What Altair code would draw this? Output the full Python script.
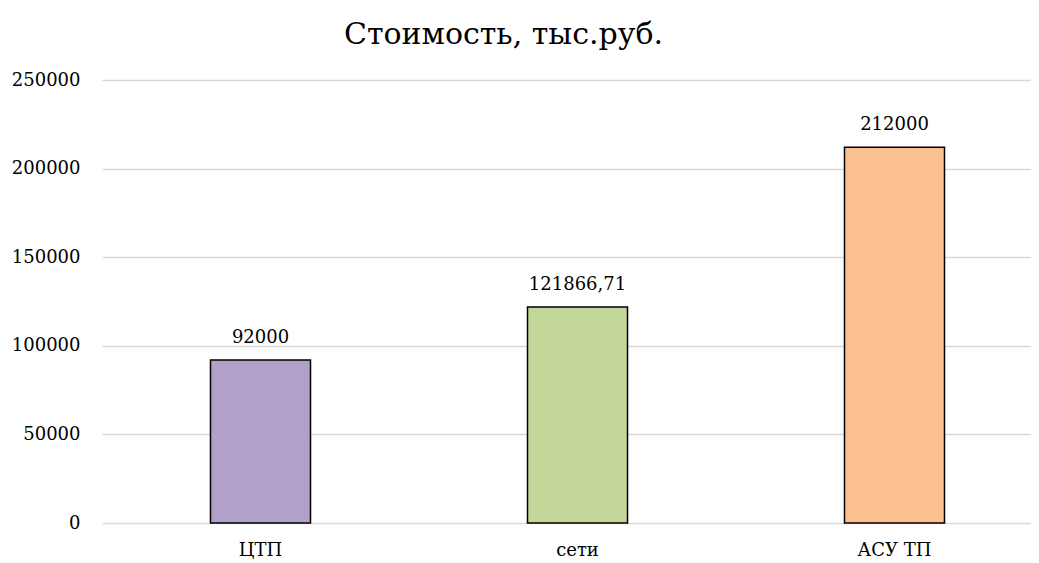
import altair as alt
import pandas as pd

categories = ["ЦТП", "сети", "АСУ ТП"]
values = [92000, 121866.71, 212000]
labels = ["92000", "121866,71", "212000"]
colors = ["#B1A0C7", "#C4D79B", "#FAC090"]
y_ticks = [0, 50000, 100000, 150000, 200000, 250000]

df = pd.DataFrame({"cat": categories, "val": values, "lab": labels})

FONT = "DejaVu Serif"

x = alt.X("cat:N", sort=categories, title=None,
          scale=alt.Scale(paddingInner=0, paddingOuter=0, range=[0, 951]),
          axis=alt.Axis(labelAngle=0, ticks=False, domain=False, labelPadding=18,
                        labelFont=FONT, labelFontSize=18, labelColor="#000000", grid=False))
y = alt.Y("val:Q", title=None,
          scale=alt.Scale(domain=[0, 250000], nice=False),
          axis=alt.Axis(values=y_ticks, format="d", ticks=False, domain=False, labelPadding=22,
                        labelFont=FONT, labelFontSize=18, labelColor="#000000",
                        gridColor="#D9D9D9", gridWidth=1.5))

bars = alt.Chart(df).mark_bar(size=100, stroke="#000000", strokeWidth=1.5).encode(
    x=x, y=y,
    color=alt.Color("cat:N", scale=alt.Scale(domain=categories, range=colors), legend=None),
)
text = alt.Chart(df).mark_text(baseline="bottom", dy=-13, font=FONT, fontSize=18, color="#000000").encode(
    x=alt.X("cat:N", sort=categories), y="val:Q", text="lab:N"
)

chart = alt.layer(bars, text).properties(
    width=929, height=443,
    autosize=alt.AutoSizeParams(type="none"),
    padding={"left": 94, "top": 72, "right": 0, "bottom": 40},
    title=alt.TitleParams("Стоимость, тыс.руб.", font=FONT, fontSize=30, fontWeight="normal",
                          color="#000000", anchor="middle", frame="group", dx=-63, offset=21),
).configure_view(stroke=None)

chart.save("out.html", embed_options={"renderer": "svg", "actions": False})
